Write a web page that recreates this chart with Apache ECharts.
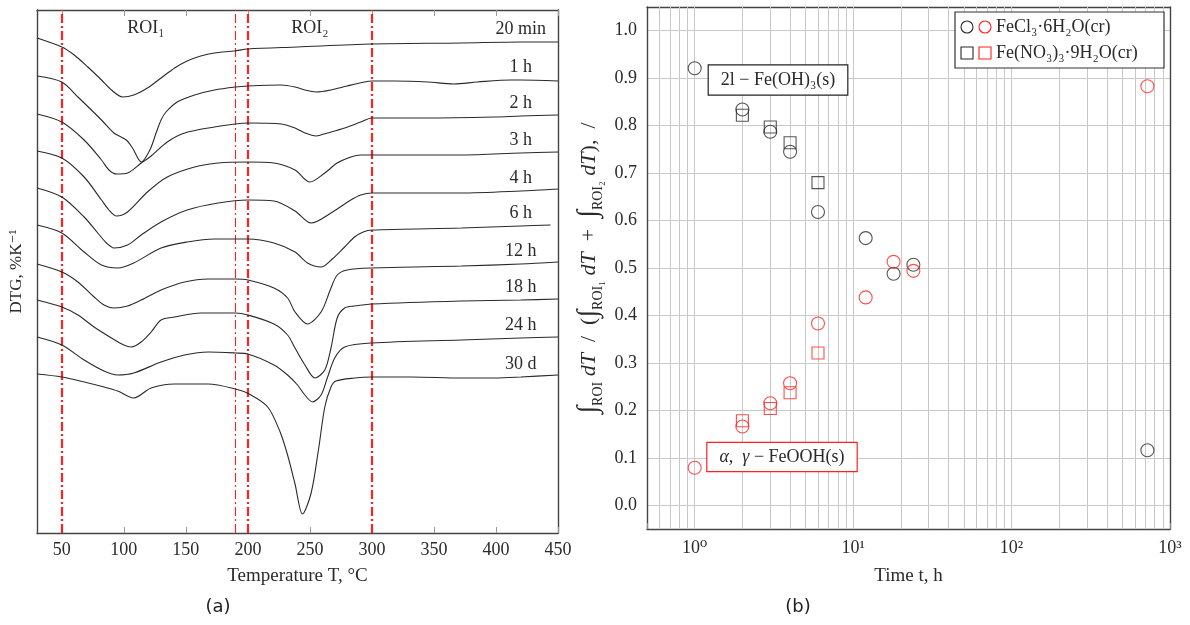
<!DOCTYPE html>
<html><head><meta charset="utf-8">
<script src="https://cdn.jsdelivr.net/npm/echarts@6/dist/echarts.min.js"></script>
<style>html,body{margin:0;padding:0;background:#fff}#c{width:1190px;height:625px}</style>
</head><body><div id="c"></div>
<script>
// ---------- Panel (a): DTG curves (temperature °C, DTG offset in arbitrary units) ----------
const curveNames = ['20 min','1 h','2 h','3 h','4 h','6 h','12 h','18 h','24 h','30 d'];
const curve20min = [[30,49.5],[50,48.6],[60,47.8],[71,46.6],[82,45.3],[90,44.3],[99,43.6],[108,43.8],[119,44.5],[130,45.5],[141,46.5],[151,47.2],[162,47.7],[173,48.0],[189,48.2],[200,48.4],[240,48.6],[300,48.9],[372,49.0],[420,49.1],[450,49.1]];
const curve1h = [[30,45.7],[50,45.1],[63,43.6],[82,41.3],[92,40.0],[102,39.3],[107,38.5],[114,37.1],[121,38.3],[126,40.0],[130,41.3],[134,42.1],[143,43.1],[157,43.8],[173,44.3],[190,44.6],[200,44.7],[227,44.8],[238,44.6],[246,44.3],[255,44.1],[267,44.3],[280,44.7],[294,45.1],[300,45.2],[318,45.2],[345,45.1],[366,44.9],[385,45.1],[412,45.3],[420,45.3],[450,45.2]];
const curve2h = [[30,41.9],[50,41.1],[68,39.3],[82,37.3],[88,36.3],[94,35.9],[103,36.0],[114,37.0],[121,37.6],[135,39.1],[149,40.0],[173,40.6],[190,40.9],[200,41.0],[227,40.9],[238,40.5],[246,40.0],[255,39.7],[264,40.0],[278,40.5],[291,41.1],[300,41.5],[345,41.5],[399,41.6],[420,41.7],[450,41.8]];
const curve3h = [[30,38.2],[50,37.5],[68,35.6],[82,33.3],[88,32.3],[94,31.7],[103,32.1],[119,34.1],[135,35.6],[157,36.6],[176,37.0],[200,37.1],[221,37.0],[238,36.3],[250,35.1],[262,36.0],[272,37.0],[283,37.6],[291,37.8],[300,37.8],[372,37.8],[420,38.0],[450,38.1]];
const curve4h = [[30,34.5],[50,33.6],[68,31.6],[79,30.0],[86,29.0],[92,28.5],[103,28.8],[114,29.8],[130,31.1],[151,32.3],[176,33.0],[200,33.3],[221,33.2],[238,32.2],[251,31.0],[267,32.0],[283,33.3],[291,33.8],[300,34.0],[372,34.0],[420,34.2],[450,34.4]];
const curve6h = [[30,30.8],[50,30.0],[68,28.1],[82,26.8],[95,26.5],[108,27.0],[130,28.5],[151,29.1],[173,29.4],[200,29.4],[221,29.0],[238,28.1],[248,27.0],[259,26.6],[268,27.4],[278,28.6],[286,29.6],[293,30.1],[300,30.3],[372,30.5],[420,30.7],[444,30.8]];
const curve12h = [[30,26.9],[50,26.1],[63,25.1],[76,23.6],[84,22.8],[92,22.5],[103,22.7],[114,23.3],[130,24.3],[149,25.1],[168,25.4],[190,25.4],[200,25.3],[221,24.5],[232,23.5],[238,22.1],[248,20.9],[259,22.1],[267,24.5],[272,25.8],[280,26.3],[300,26.5],[372,26.7],[420,26.9],[450,27.1]];
const curve18h = [[30,23.3],[50,22.6],[63,21.8],[76,20.6],[90,19.5],[100,18.8],[106,18.6],[114,19.1],[122,20.1],[130,21.3],[141,21.6],[162,22.0],[190,22.0],[200,21.8],[221,20.9],[232,19.8],[238,18.5],[246,16.8],[254,15.5],[262,16.3],[267,18.5],[272,21.5],[278,22.5],[286,22.7],[300,22.9],[372,23.2],[420,23.3],[450,23.4]];
const curve24h = [[30,19.6],[50,18.8],[68,17.3],[84,16.2],[95,15.8],[108,16.0],[130,17.1],[149,17.8],[168,18.1],[190,18.0],[200,17.9],[221,16.8],[232,15.8],[240,14.8],[246,13.8],[252,13.1],[259,13.8],[264,15.5],[270,17.5],[278,18.6],[300,19.0],[372,19.3],[420,19.5],[450,19.6]];
const curve30d = [[30,15.9],[50,15.6],[68,15.1],[84,14.6],[95,14.2],[108,13.5],[122,14.5],[141,14.9],[168,14.9],[190,14.4],[201,13.9],[216,12.6],[226,10.1],[232,7.8],[238,4.9],[244,1.9],[251,4.0],[257,8.4],[262,12.6],[267,14.6],[271,15.2],[286,15.5],[300,15.6],[332,15.6],[372,15.5],[399,15.5],[420,15.6],[450,15.8]];
const curveLabelT = 420;
const roiBounds = [50, 190, 200, 300];
const tempTicks = [50,100,150,200,250,300,350,400,450];

// ---------- Panel (b): ROI fractions vs time (h) ----------
const timesFeCl3 = [1,2,3,4,6,12,18,24,720];
const feCl3_FeOH3 = [0.921,0.834,0.787,0.745,0.618,0.563,0.488,0.507,0.116];
const feCl3_FeOOH = [0.079,0.166,0.215,0.257,0.383,0.438,0.513,0.494,0.883];
const timesNitrate = [2,3,4,6];
const nitrate_FeOH3 = [0.822,0.797,0.764,0.680];
const nitrate_FeOOH = [0.178,0.204,0.237,0.321];
const fracTicks = [0,0.1,0.2,0.3,0.4,0.5,0.6,0.7,0.8,0.9,1.0];
const logGridValues = [0.6,0.7,0.8,0.9,1,2,3,4,5,6,7,8,9,10,20,30,40,50,60,70,80,90,100,200,300,400,500,600,700,800,900];

const SERIF = "'Liberation Serif','DejaVu Serif',serif";
const INK = '#2a2a2a';
const AXIS = '#444';
const RED = '#ff2020';

const curves = [curve20min,curve1h,curve2h,curve3h,curve4h,curve6h,curve12h,curve18h,curve24h,curve30d];

const lineSeries = curves.map((pts, i) => ({
  type: 'line', name: curveNames[i], xAxisIndex: 0, yAxisIndex: 0,
  smooth: 0.3, showSymbol: true, symbol: 'circle', symbolSize: 0.01,
  itemStyle: {color: INK}, lineStyle: {color: INK, width: 1.1}, z: 3,
  data: pts.map(p => p[0] === curveLabelT
    ? {value: p, label: {show: true, position: 'top', distance: 4, formatter: curveNames[i], fontFamily: SERIF, fontSize: 18, color: INK}}
    : {value: p}),
  markLine: i === 0 ? {
    silent: true, symbol: ['none','none'], label: {show: false}, z: 2,
    lineStyle: {color: RED, type: [9,3,2,3], width: 2.2},
    data: roiBounds.map(b => ({xAxis: b, lineStyle: {color: RED, type: [9,3,2,3], width: b === 190 ? 1.1 : 2.2}}))
  } : undefined
}));

function scatter(name, xs, ys, symbol, color, size, withGrid) {
  return {
    type: 'scatter', name, xAxisIndex: 2, yAxisIndex: 2, z: 4,
    symbol, symbolSize: size,
    itemStyle: {color: 'rgba(0,0,0,0)', borderColor: color, borderWidth: 1.1},
    data: xs.map((x, k) => [x, ys[k]]),
    markLine: withGrid ? {
      silent: true, symbol: ['none','none'], label: {show: false}, z: 1,
      lineStyle: {color: '#c9c9c9', type: 'solid', width: 1},
      data: logGridValues.map(v => ({xAxis: v}))
    } : undefined
  };
}

const supMap = {'0':'⁰','1':'¹','2':'²','3':'³','-':'⁻'};
const ES = '\u2002';

const option = {
  animation: false,
  backgroundColor: '#fff',
  textStyle: {fontFamily: SERIF},
  grid: [
    {left: 37, top: 10, width: 521, height: 523},
    {left: 647, top: 7, width: 523, height: 522}
  ],
  xAxis: [
    {type: 'value', gridIndex: 0, min: 30, max: 450, position: 'bottom',
     axisLine: {onZero: false, lineStyle: {color: AXIS, width: 1.4}},
     axisTick: {show: true, inside: true, length: 6, customValues: tempTicks, lineStyle: {color: '#999'}},
     axisLabel: {customValues: tempTicks, fontFamily: SERIF, fontSize: 18, color: INK, margin: 8},
     splitLine: {show: false},
     name: 'Temperature T, °C', nameLocation: 'middle', nameGap: 34,
     nameTextStyle: {fontFamily: SERIF, fontSize: 19, color: INK}},
    {type: 'value', gridIndex: 0, min: 30, max: 450, position: 'top',
     axisLine: {onZero: false, lineStyle: {color: AXIS, width: 1.4}},
     axisTick: {show: true, inside: true, length: 6, customValues: tempTicks, lineStyle: {color: '#999'}},
     axisLabel: {show: false}, splitLine: {show: false}},
    {type: 'log', logBase: 10, gridIndex: 1, min: 0.5, max: 1000, position: 'bottom',
     axisLine: {onZero: false, lineStyle: {color: AXIS, width: 1.4}},
     axisTick: {show: true, inside: true, length: 6, lineStyle: {color: '#888'}},
     axisLabel: {fontFamily: SERIF, fontSize: 18, color: INK, margin: 10, showMinLabel: true,
       formatter: v => {
         const e = Math.log10(v); const r = Math.round(e);
         if (Math.abs(e - r) > 1e-6) return '';
         return '10' + String(r).split('').map(c => supMap[c]).join('');
       }},
     splitLine: {show: false},
     name: 'Time t, h', nameLocation: 'middle', nameGap: 38,
     nameTextStyle: {fontFamily: SERIF, fontSize: 19, color: INK}},
    {type: 'log', logBase: 10, gridIndex: 1, min: 0.5, max: 1000, position: 'top',
     axisLine: {onZero: false, lineStyle: {color: AXIS, width: 1.4}},
     axisTick: {show: false}, axisLabel: {show: false}, splitLine: {show: false}}
  ],
  yAxis: [
    {type: 'value', gridIndex: 0, min: 0, max: 52.3, position: 'left',
     axisLine: {show: true, onZero: false, lineStyle: {color: AXIS, width: 1.4}},
     axisTick: {show: false}, axisLabel: {show: false}, splitLine: {show: false},
     name: 'DTG, %K⁻¹', nameLocation: 'middle', nameGap: 12,
     nameTextStyle: {fontFamily: SERIF, fontSize: 17, color: INK}},
    {type: 'value', gridIndex: 0, min: 0, max: 52.3, position: 'right',
     axisLine: {show: true, onZero: false, lineStyle: {color: AXIS, width: 1.4}},
     axisTick: {show: false}, axisLabel: {show: false}, splitLine: {show: false}},
    {type: 'value', gridIndex: 1, min: -0.05, max: 1.05, position: 'left',
     axisLine: {show: true, onZero: false, lineStyle: {color: AXIS, width: 1.4}},
     axisTick: {show: false, customValues: fracTicks},
     axisLabel: {customValues: fracTicks, fontFamily: SERIF, fontSize: 18, color: INK, margin: 10, formatter: v => v.toFixed(1)},
     splitLine: {show: true, lineStyle: {color: '#c9c9c9', width: 1}},
     name: '{i|∫}{s|ROI} {t|dT}' + ES + '/' + ES + '({i|∫}{s|ROI₁} {t|dT}' + ES + '+' + ES + '{i|∫}{s|ROI₂} {t|dT}),' + ES + '/',
     nameLocation: 'middle', nameGap: 42,
     nameTextStyle: {fontFamily: SERIF, fontSize: 22, color: INK,
       rich: {
         i: {fontFamily: SERIF, fontSize: 28, color: INK, lineHeight: 32, verticalAlign: 'middle'},
         s: {fontFamily: SERIF, fontSize: 14, color: INK, lineHeight: 32, verticalAlign: 'bottom'},
         t: {fontFamily: SERIF, fontSize: 22, fontStyle: 'italic', color: INK, lineHeight: 32}
       }}},
    {type: 'value', gridIndex: 1, min: -0.05, max: 1.05, position: 'right',
     axisLine: {show: true, onZero: false, lineStyle: {color: AXIS, width: 1.4}},
     axisTick: {show: false}, axisLabel: {show: false}, splitLine: {show: false}}
  ],
  series: [
    ...lineSeries,
    scatter('FeCl3 Fe(OH)3', timesFeCl3, feCl3_FeOH3, 'circle', INK, 13, true),
    scatter('FeCl3 FeOOH', timesFeCl3, feCl3_FeOOH, 'circle', RED, 13, false),
    scatter('Nitrate Fe(OH)3', timesNitrate, nitrate_FeOH3, 'rect', INK, 12, false),
    scatter('Nitrate FeOOH', timesNitrate, nitrate_FeOOH, 'rect', RED, 12, false)
  ],
  graphic: [
    {type: 'text', x: 146, y: 28, z: 10, style: {text: 'ROI₁', font: "18px 'Liberation Serif'", fill: INK, align: 'center', verticalAlign: 'middle'}},
    {type: 'text', x: 310, y: 28, z: 10, style: {text: 'ROI₂', font: "18px 'Liberation Serif'", fill: INK, align: 'center', verticalAlign: 'middle'}},
    {type: 'text', x: 218, y: 607, z: 10, style: {text: '(a)', font: "18px 'DejaVu Sans'", fill: '#222', align: 'center', verticalAlign: 'middle'}},
    {type: 'text', x: 798, y: 607, z: 10, style: {text: '(b)', font: "18px 'DejaVu Sans'", fill: '#222', align: 'center', verticalAlign: 'middle'}},
    {type: 'text', x: 778, y: 80, z: 10, style: {text: '2l − Fe(OH)₃(s)', font: "18px 'Liberation Serif'", fill: INK, align: 'center', verticalAlign: 'middle',
      backgroundColor: '#fff', borderColor: '#222', borderWidth: 1.2, padding: [6, 12, 5, 12]}},
    {type: 'text', x: 782, y: 457, z: 10, style: {
      text: '{g|α,  γ} − FeOOH(s)', font: "18px 'Liberation Serif'", fill: INK, align: 'center', verticalAlign: 'middle',
      backgroundColor: '#fff', borderColor: RED, borderWidth: 1.2, padding: [5, 12, 5, 12],
      rich: {g: {font: "italic 18px 'Liberation Serif'", fill: INK}}}},
    {type: 'rect', z: 10, shape: {x: 955, y: 12, width: 209, height: 56}, style: {fill: '#fff', stroke: '#333', lineWidth: 1.2}},
    {type: 'circle', z: 11, shape: {cx: 967, cy: 27, r: 6}, style: {fill: 'none', stroke: INK, lineWidth: 1.1}},
    {type: 'circle', z: 11, shape: {cx: 985, cy: 27, r: 6}, style: {fill: 'none', stroke: RED, lineWidth: 1.1}},
    {type: 'rect', z: 11, shape: {x: 961, y: 47, width: 12, height: 12}, style: {fill: 'none', stroke: INK, lineWidth: 1.1}},
    {type: 'rect', z: 11, shape: {x: 979, y: 47, width: 12, height: 12}, style: {fill: 'none', stroke: RED, lineWidth: 1.1}},
    {type: 'text', x: 996, y: 27, z: 11, style: {text: 'FeCl₃·6H₂O(cr)', font: "18px 'Liberation Serif'", fill: INK, align: 'left', verticalAlign: 'middle'}},
    {type: 'text', x: 996, y: 53, z: 11, style: {text: 'Fe(NO₃)₃·9H₂O(cr)', font: "18px 'Liberation Serif'", fill: INK, align: 'left', verticalAlign: 'middle'}}
  ]
};

const chart = echarts.init(document.getElementById('c'), null, {renderer: 'canvas'});
chart.setOption(option);
</script>
</body></html>
